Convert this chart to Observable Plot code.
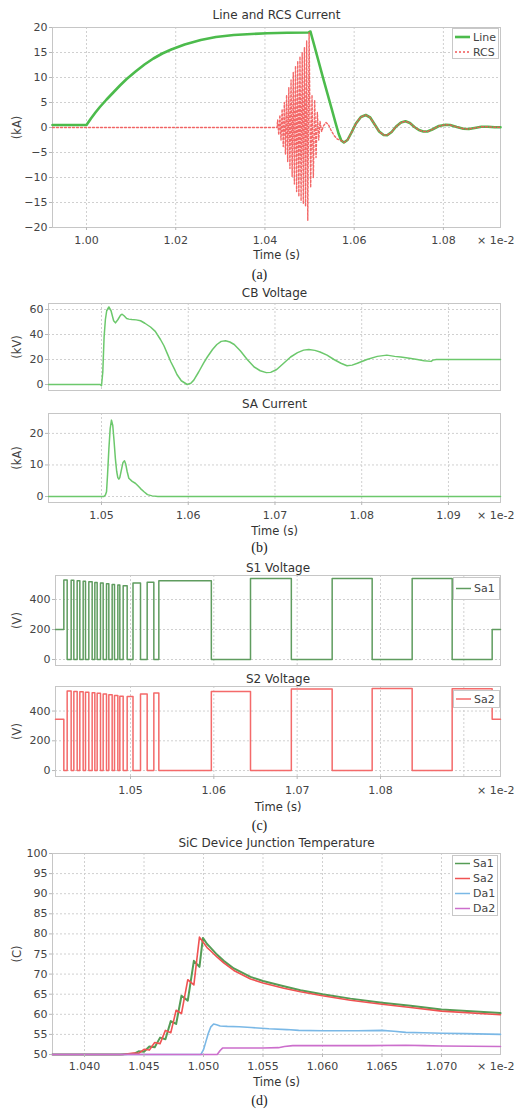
<!DOCTYPE html>
<html>
<head>
<meta charset="utf-8">
<script src="https://cdn.jsdelivr.net/npm/d3@7"></script>
<script src="https://cdn.jsdelivr.net/npm/@observablehq/plot@0.6"></script>
<style>
html,body{margin:0;padding:0;background:#fff;}
#root{position:relative;width:517px;height:1111px;overflow:hidden;font-family:"DejaVu Sans",sans-serif;}
#root > svg, #root > div{position:absolute;left:0;}
</style>
</head>
<body>
<div id="root"></div>
<script>
// ---------------- (a) Line and RCS Current (kA), time in 1e-2 s ----------------
const lineT = [0.99238, 1.0000, 1.0010, 1.0020, 1.0030, 1.0045, 1.0060, 1.0075, 1.0090, 1.0110, 1.0130, 1.0150, 1.0170, 1.0190, 1.0220, 1.0256, 1.0290, 1.0330, 1.0370, 1.0405, 1.0450, 1.0498, 1.0502,
  1.0510, 1.0520, 1.0530, 1.0540, 1.0550, 1.0558, 1.0565, 1.0571, 1.0577, 1.0585, 1.0594, 1.0604, 1.0615, 1.0626, 1.0636, 1.0646, 1.0656, 1.0666, 1.0674, 1.0684, 1.0694, 1.0705, 1.0715, 1.0725, 1.0735, 1.0745, 1.0755, 1.0764, 1.0775, 1.0790, 1.0805, 1.0815, 1.0830, 1.0845, 1.0857, 1.0870, 1.0885, 1.0900, 1.0915, 1.0928];
const lineV = [0.5, 0.5, 1.8, 3.0, 4.1, 5.6, 7.0, 8.4, 9.7, 11.2, 12.6, 13.8, 14.8, 15.6, 16.6, 17.5, 18.1, 18.5, 18.7, 18.85, 18.95, 19.0, 19.2,
  16.6, 13.3, 10.0, 6.8, 3.6, 1.0, -1.2, -2.6, -3.0, -2.5, -1.0, 0.8, 2.1, 2.5, 2.0, 0.6, -0.8, -1.5, -1.55, -0.9, 0.2, 1.0, 1.25, 0.9, 0.1, -0.5, -0.8, -0.8, -0.4, 0.3, 0.55, 0.5, 0.1, -0.25, -0.3, -0.1, 0.15, 0.15, 0.05, 0.05];
const rcsT = [0.99238, 1.0427, 1.04285, 1.0431, 1.04335, 1.0436, 1.04385, 1.0441, 1.04435, 1.0446, 1.04485, 1.0451, 1.04535, 1.0456, 1.04585, 1.0461, 1.04635, 1.0466, 1.04685, 1.0471, 1.04735, 1.0476, 1.04785, 1.0481, 1.04835, 1.0486, 1.04885, 1.0491, 1.04935, 1.0496, 1.0499,
  1.05025, 1.05055, 1.05085, 1.05115, 1.05145, 1.05175, 1.05205, 1.05235, 1.0527, 1.0531, 1.0537, 1.0542, 1.0548, 1.0555, 1.0562, 1.0571,
  1.0577, 1.0585, 1.0594, 1.0604, 1.0615, 1.0626, 1.0636, 1.0646, 1.0656, 1.0666, 1.0674, 1.0684, 1.0694, 1.0705, 1.0715, 1.0725, 1.0735, 1.0745, 1.0755, 1.0764, 1.0775, 1.0790, 1.0805, 1.0815, 1.0830, 1.0845, 1.0857, 1.0870, 1.0885, 1.0900, 1.0915, 1.0928];
const rcsV = [0, 0, 1.5, -1.5, 2.5, -2.5, 3.7, -3.8, 5.0, -5.3, 6.5, -6.8, 8.0, -8.2, 9.5, -9.8, 11.0, -11.3, 12.3, -12.8, 13.3, -13.8, 14.2, -14.7, 15.0, -15.3, 16.0, -15.8, 17.3, -18.6, 19.0,
  -12.0, 6.5, -10.0, 5.5, -6.0, 3.0, -2.5, 1.2, -0.8, 0.3, 1.0, 0.6, -0.5, -1.6, -2.3, -2.6,
  -3.0, -2.5, -1.0, 0.8, 2.1, 2.5, 2.0, 0.6, -0.8, -1.5, -1.55, -0.9, 0.2, 1.0, 1.25, 0.9, 0.1, -0.5, -0.8, -0.8, -0.4, 0.3, 0.55, 0.5, 0.1, -0.25, -0.3, -0.1, 0.15, 0.15, 0.05, 0.05];
const aXTicks = [1.00, 1.02, 1.04, 1.06, 1.08];
const aYTicks = [-20, -15, -10, -5, 0, 5, 10, 15, 20];

// ---------------- (b) CB Voltage (kV) and SA Current (kA) ----------------
const cbT = [1.04389, 1.0490, 1.04985, 1.0500, 1.05015, 1.0503, 1.05045, 1.0506, 1.05085, 1.0511, 1.0514, 1.05161, 1.0519, 1.0522, 1.05238, 1.0526, 1.0529, 1.05315, 1.0535, 1.0540, 1.0545, 1.0550, 1.05565, 1.0562, 1.0568, 1.0572, 1.0576, 1.0580, 1.0584, 1.0587, 1.0592, 1.05988, 1.0603, 1.06064, 1.0612, 1.0618, 1.0622, 1.0628, 1.0633, 1.0638, 1.0643, 1.0648, 1.0653, 1.0660, 1.0668, 1.0676, 1.0683, 1.0690, 1.0695, 1.0702, 1.0710, 1.0718, 1.0726, 1.0733, 1.0739, 1.0746, 1.0752, 1.0760, 1.0768, 1.0776, 1.0783, 1.0789, 1.0795, 1.0806, 1.0818, 1.0829, 1.0838, 1.0845, 1.0855, 1.0864, 1.0872, 1.0880, 1.0882, 1.0886, 1.0900, 1.0930, 1.0960];
const cbV = [0, 0, 0, -1.0, 10, 38, 52, 59, 62, 59, 51, 49.3, 52, 55.5, 56.2, 55, 52.8, 52.3, 52, 51.7, 51, 49, 46, 42.5, 36, 31, 24.5, 18, 12.5, 8, 3, 0, 1, 3.5, 10, 17.5, 22, 28, 32, 34.5, 35, 34, 32, 27, 20, 14, 11, 9.5, 9.7, 12, 17, 22, 25.5, 27.5, 28, 27.3, 26, 23.5, 20, 17, 15, 15.5, 17, 20, 22.5, 23.5, 22.5, 22, 21, 20, 19, 18.5, 19.5, 20, 20, 20, 20];
const saT = [1.04389, 1.0500, 1.05027, 1.05045, 1.05058, 1.0507, 1.05085, 1.0510, 1.05115, 1.0513, 1.05145, 1.0516, 1.05175, 1.05188, 1.0520, 1.05211, 1.0523, 1.05248, 1.05265, 1.0528, 1.05295, 1.05315, 1.05354, 1.0539, 1.0542, 1.0545, 1.0549, 1.0553, 1.05584, 1.0565, 1.0960];
const saV = [0, 0, 0, 0.5, 1.5, 7, 15, 21.5, 24.2, 22.5, 17.5, 12, 8, 6, 5.5, 6, 8.5, 10.8, 11.3, 10.2, 8, 5.8, 4.8, 4.2, 3.4, 2.5, 1.5, 0.6, 0.2, 0, 0];
const bXTicks = [1.05, 1.06, 1.07, 1.08, 1.09];
const cbYTicks = [0, 20, 40, 60];
const saYTicks = [0, 10, 20];

// ---------------- (c) S1 / S2 Voltage (V), switching instants ----------------
const swT = [1.0410, 1.0420, 1.04240, 1.04288, 1.04320, 1.04360, 1.04392, 1.04432, 1.04460, 1.04500, 1.04540, 1.04572, 1.04600, 1.04640, 1.04672, 1.04712, 1.04740, 1.04780, 1.04808, 1.04848, 1.04872, 1.04912, 1.04960, 1.05030, 1.05120, 1.05200, 1.05280, 1.05340, 1.05970, 1.06440, 1.06930, 1.07420, 1.07900, 1.08380, 1.08860, 1.09340, 1.0944];
const s1V = [200, 530, 0, 528, 0, 525, 0, 522, 0, 518, 0, 514, 0, 510, 0, 505, 0, 500, 0, 496, 0, 492, 0, 510, 0, 515, 0, 525, 0, 540, 0, 540, 0, 540, 0, 200, 200];
const s2V = [345, 0, 535, 0, 532, 0, 530, 0, 527, 0, 523, 0, 520, 0, 515, 0, 510, 0, 505, 0, 500, 0, 497, 0, 515, 0, 522, 0, 532, 0, 548, 0, 552, 0, 550, 345, 345];
const cXTicks = [1.05, 1.06, 1.07, 1.08];
const cXGrid = [1.05, 1.06, 1.07, 1.08, 1.09];
const cYTicks = [0, 200, 400];

// ---------------- (d) SiC Device Junction Temperature (C) ----------------
const sa1T = [1.0373, 1.0430, 1.04365, 1.04410, 1.04455, 1.04500, 1.04545, 1.04590, 1.04635, 1.04680, 1.04725, 1.04770, 1.04815, 1.04868, 1.04919, 1.04966, 1.04995, 1.0503, 1.05059, 1.05115, 1.0517, 1.05255, 1.05395, 1.0550, 1.05675, 1.05815, 1.0600, 1.06235, 1.0650, 1.0674, 1.0700, 1.07496];
const sa1V = [50, 50, 50.15, 50.1, 50.8, 50.7, 52.0, 51.8, 54.2, 53.8, 58.3, 57.6, 64.6, 63.4, 73.3, 71.8, 79.0, 77.5, 76.6, 74.8, 73.3, 71.4, 69.3, 68.3, 67.0, 66.0, 65.0, 63.9, 62.9, 62.1, 61.2, 60.3];
const sa2T = [1.0373, 1.0432, 1.04410, 1.04455, 1.04500, 1.04545, 1.04590, 1.04635, 1.04680, 1.04725, 1.04770, 1.04815, 1.04868, 1.04919, 1.04966, 1.0500, 1.0503, 1.05059, 1.05115, 1.0517, 1.05255, 1.05395, 1.0550, 1.05675, 1.05815, 1.0600, 1.06235, 1.0650, 1.0674, 1.0700, 1.07496];
const sa2V = [50, 50, 50.35, 50.3, 51.3, 51.1, 53.0, 52.7, 56.0, 55.4, 61.0, 60.2, 68.6, 67.3, 79.2, 77.8, 76.6, 75.8, 74.2, 72.8, 70.9, 68.8, 67.8, 66.5, 65.6, 64.6, 63.5, 62.5, 61.7, 60.8, 59.9];
const da1T = [1.0373, 1.04978, 1.0500, 1.0502, 1.0504, 1.0506, 1.05085, 1.0511, 1.0514, 1.0520, 1.0530, 1.0540, 1.0555, 1.0570, 1.0580, 1.0600, 1.0630, 1.0650, 1.0660, 1.0670, 1.0685, 1.0700, 1.0720, 1.07496];
const da1V = [50, 50, 51.2, 53.2, 55.2, 56.8, 57.6, 57.4, 57.1, 57.0, 56.9, 56.7, 56.4, 56.2, 56.0, 55.9, 55.9, 56.0, 55.8, 55.5, 55.4, 55.3, 55.2, 55.0];
const da2T = [1.0373, 1.05115, 1.0514, 1.0516, 1.0530, 1.0550, 1.0563, 1.0568, 1.0575, 1.0600, 1.0640, 1.0670, 1.0685, 1.0700, 1.07496];
const da2V = [50, 50, 51.0, 51.6, 51.6, 51.6, 51.7, 52.0, 52.2, 52.2, 52.2, 52.3, 52.2, 52.1, 52.0];
const dXTicks = [1.040, 1.045, 1.050, 1.055, 1.060, 1.065, 1.070];
const dYTicks = [50, 55, 60, 65, 70, 75, 80, 85, 90, 95, 100];

// ---------------- rendering ----------------
const root = document.getElementById("root");
const FONT = "DejaVu Sans";
const GRID = "#d0d0d0";
const FRAME = "#c6c6c6";
const TXT = "#444";
const W = 517;

function rows(T, V) { return T.map((t, i) => ({t, v: V[i]})); }

function panel(c) {
  const height = c.bottom - c.top;
  const marks = [
    Plot.gridX(c.xGrid, {stroke: GRID, strokeOpacity: 1, strokeDasharray: "2,2"}),
    Plot.gridY(c.yTicks, {stroke: GRID, strokeOpacity: 1, strokeDasharray: "2,2"}),
    Plot.frame({stroke: FRAME}),
    ...c.series,
    Plot.axisY(c.yTicks, {tickSize: 3, tickPadding: 2, stroke: "#b8b8b8", fill: TXT, label: null}),
    Plot.text([c.title], {text: d => d, frameAnchor: "top", dy: c.titleY - c.frameTop, lineAnchor: "middle", fill: "#333", fontSize: 12}),
    Plot.text([c.ylabel], {text: d => d, frameAnchor: "left", dx: 17 - c.frameLeft, rotate: -90, textAnchor: "middle", lineAnchor: "middle", fill: TXT, fontSize: 11.5})
  ];
  if (c.xTicks) {
    marks.push(
      Plot.axisX(c.xTicks, {tickSize: 3, tickPadding: c.tickLabelY - c.frameBottom - 7, tickFormat: d3.format(c.xFormat), stroke: "#b8b8b8", fill: TXT, label: null}),
      Plot.text(["× 1e-2"], {text: d => d, frameAnchor: "bottom-right", dx: 514 - c.frameRight, dy: c.tickLabelY - c.frameBottom, textAnchor: "end", lineAnchor: "middle", fill: TXT}),
      Plot.text(["Time (s)"], {text: d => d, frameAnchor: "bottom", dy: c.timeY - c.frameBottom, lineAnchor: "middle", fill: "#333", fontSize: 11.5}),
      Plot.text([c.caption], {text: d => d, frameAnchor: "bottom", dx: 259 - (c.frameLeft + c.frameRight) / 2, dy: c.captionY - c.frameBottom, lineAnchor: "middle", fill: "#222", fontFamily: "Liberation Serif", fontSize: 14})
    );
  }
  const svg = Plot.plot({
    width: W, height,
    marginTop: c.frameTop - c.top, marginBottom: c.bottom - c.frameBottom,
    marginLeft: c.frameLeft, marginRight: W - c.frameRight,
    x: {domain: c.xDomain, axis: null},
    y: {domain: c.yDomain, axis: null},
    style: {fontFamily: FONT, fontSize: "11px", color: TXT, background: "transparent", overflow: "visible"},
    marks
  });
  svg.style.top = c.top + "px";
  root.append(svg);
}

function legend(left, top, w, h, items) {
  const div = document.createElement("div");
  div.style.cssText = `left:${left}px;top:${top}px;width:${w}px;height:${h}px;border:1px solid #c8c8c8;background:#fff;box-sizing:border-box;`;
  const ns = "http://www.w3.org/2000/svg";
  const s = document.createElementNS(ns, "svg");
  s.setAttribute("width", w - 2); s.setAttribute("height", h - 2);
  s.style.display = "block";
  for (const it of items) {
    const l = document.createElementNS(ns, "line");
    l.setAttribute("x1", 2); l.setAttribute("x2", 17); l.setAttribute("y1", it.y); l.setAttribute("y2", it.y);
    l.setAttribute("stroke", it.color); l.setAttribute("stroke-width", it.width || 1.5);
    if (it.dash) l.setAttribute("stroke-dasharray", it.dash);
    s.append(l);
    const t = document.createElementNS(ns, "text");
    t.setAttribute("x", 20); t.setAttribute("y", it.y); t.setAttribute("dy", "0.35em");
    t.setAttribute("font-family", FONT); t.setAttribute("font-size", "11"); t.setAttribute("fill", TXT);
    t.textContent = it.label;
    s.append(t);
  }
  div.append(s);
  root.append(div);
}

const C_LINE = "#4cbb4c", C_RCS = "#f25858", C_B = "#6cc86c", C_S1 = "#5f9c5f", C_S2 = "#f46a6a";
const C_SA1 = "#559c55", C_SA2 = "#f05252", C_DA1 = "#7ab8e6", C_DA2 = "#cc6ecc";

// (a)
panel({top: 0, bottom: 285, frameTop: 27, frameBottom: 227, frameLeft: 52, frameRight: 500,
  xDomain: [0.99238, 1.0928], yDomain: [-20, 20], xTicks: aXTicks, xGrid: aXTicks, xFormat: ".2f", yTicks: aYTicks,
  title: "Line and RCS Current", titleY: 15, ylabel: "(kA)", tickLabelY: 240, timeY: 255, caption: "(a)", captionY: 274,
  series: [
    Plot.line(rows(lineT, lineV), {x: "t", y: "v", stroke: C_LINE, strokeWidth: 2.6}),
    Plot.line(rows(rcsT, rcsV), {x: "t", y: "v", stroke: C_RCS, strokeWidth: 1.4, strokeOpacity: 0.9, strokeDasharray: "2,2"})
  ]});
legend(452, 28, 47, 31, [{label: "Line", color: C_LINE, width: 2.6, y: 8}, {label: "RCS", color: C_RCS, dash: "2,2", width: 1.6, y: 23}]);

// (b) CB voltage
panel({top: 285, bottom: 398, frameTop: 303, frameBottom: 390, frameLeft: 48, frameRight: 500,
  xDomain: [1.04389, 1.0960], yDomain: [-4.8, 64.8], xGrid: bXTicks, yTicks: cbYTicks,
  title: "CB Voltage", titleY: 293, ylabel: "(kV)",
  series: [Plot.line(rows(cbT, cbV), {x: "t", y: "v", stroke: C_B, strokeWidth: 1.5})]});
// (b) SA current
panel({top: 398, bottom: 556, frameTop: 413, frameBottom: 502, frameLeft: 48, frameRight: 500,
  xDomain: [1.04389, 1.0960], yDomain: [-1.9, 26.3], xTicks: bXTicks, xGrid: bXTicks, xFormat: ".2f", yTicks: saYTicks,
  title: "SA Current", titleY: 404, ylabel: "(kA)", tickLabelY: 515, timeY: 531, caption: "(b)", captionY: 547,
  series: [Plot.line(rows(saT, saV), {x: "t", y: "v", stroke: C_B, strokeWidth: 1.5})]});

// (c) S1 voltage
panel({top: 556, bottom: 672, frameTop: 575, frameBottom: 665, frameLeft: 55, frameRight: 500,
  xDomain: [1.041, 1.0944], yDomain: [-40, 560], xGrid: cXGrid, yTicks: cYTicks,
  title: "S1 Voltage", titleY: 568, ylabel: "(V)",
  series: [Plot.line(rows(swT, s1V), {x: "t", y: "v", stroke: C_S1, strokeWidth: 1.5, curve: "step-after"})]});
legend(453, 577, 47, 23, [{label: "Sa1", color: C_S1, y: 10.5}]);
// (c) S2 voltage
panel({top: 672, bottom: 836, frameTop: 686, frameBottom: 776, frameLeft: 55, frameRight: 500,
  xDomain: [1.041, 1.0944], yDomain: [-40, 565], xTicks: cXTicks, xGrid: cXGrid, xFormat: ".2f", yTicks: cYTicks,
  title: "S2 Voltage", titleY: 679, ylabel: "(V)", tickLabelY: 790, timeY: 807, caption: "(c)", captionY: 825,
  series: [Plot.line(rows(swT, s2V), {x: "t", y: "v", stroke: C_S2, strokeWidth: 1.5, curve: "step-after"})]});
legend(453, 690, 47, 18, [{label: "Sa2", color: C_S2, y: 8}]);

// (d)
panel({top: 836, bottom: 1111, frameTop: 853, frameBottom: 1054, frameLeft: 52, frameRight: 500,
  xDomain: [1.03731, 1.07496], yDomain: [50, 100], xTicks: dXTicks, xGrid: dXTicks, xFormat: ".3f", yTicks: dYTicks,
  title: "SiC Device Junction Temperature", titleY: 843, ylabel: "(C)", tickLabelY: 1066, timeY: 1082, caption: "(d)", captionY: 1100,
  series: [
    Plot.line(rows(sa1T, sa1V), {x: "t", y: "v", stroke: C_SA1, strokeWidth: 2}),
    Plot.line(rows(sa2T, sa2V), {x: "t", y: "v", stroke: C_SA2, strokeWidth: 1.6}),
    Plot.line(rows(da1T, da1V), {x: "t", y: "v", stroke: C_DA1, strokeWidth: 1.6}),
    Plot.line(rows(da2T, da2V), {x: "t", y: "v", stroke: C_DA2, strokeWidth: 1.6})
  ]});
legend(452, 855, 46, 61, [
  {label: "Sa1", color: C_SA1, y: 7.5}, {label: "Sa2", color: C_SA2, y: 22.5},
  {label: "Da1", color: C_DA1, y: 37.5}, {label: "Da2", color: C_DA2, y: 52.5}]);
</script>
</body>
</html>
